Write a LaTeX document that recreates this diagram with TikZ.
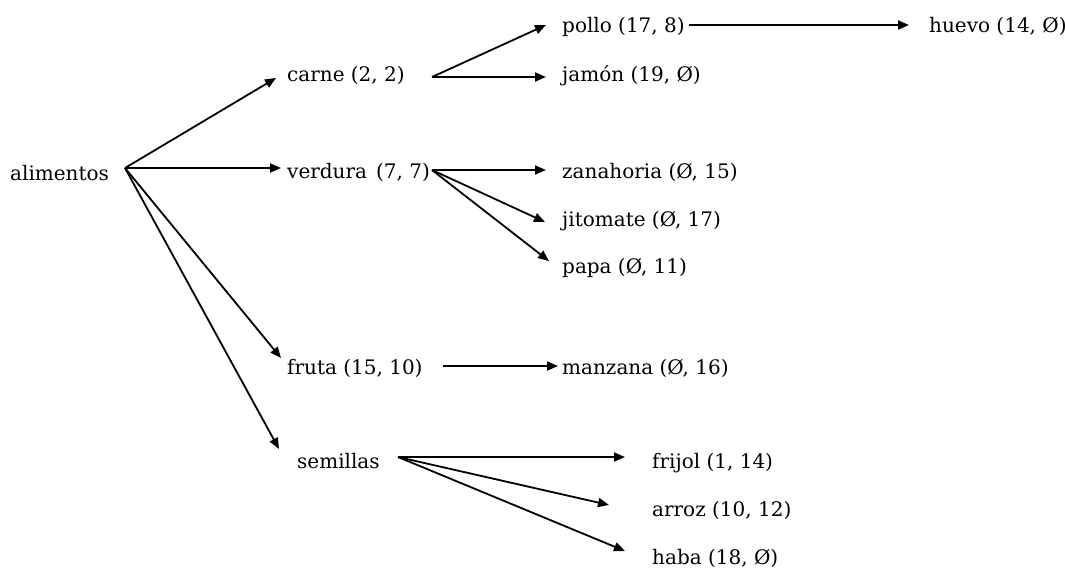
\documentclass[tikz,border=0pt]{standalone}
\usepackage{fontspec}
\setmainfont{DejaVu Serif}
\usetikzlibrary{arrows.meta}
\begin{document}
\begin{tikzpicture}[x=1pt,y=-1pt,
  lbl/.style={anchor=base west,inner sep=0pt,font=\fontsize{20}{22}\selectfont},
  link/.style={line width=1.8pt,-{Triangle[length=11pt,width=9pt]}}]
\useasboundingbox (0,0) rectangle (1065,574);
% labels
\node[lbl] (alimentos) at (10,180) {alimentos};
\node[lbl] (carne) at (287,81) {carne (2, 2)};
\node[lbl] (verdura) at (287,178) {verdura\hspace{0.45em}(7, 7)};
\node[lbl] (fruta) at (287,374) {fruta (15, 10)};
\node[lbl] (semillas) at (297,468) {semillas};
\node[lbl] (pollo) at (562,32) {pollo (17, 8)};
\node[lbl] (jamon) at (562,81) {jamón (19, Ø)};
\node[lbl] (huevo) at (929,32) {huevo (14, Ø)};
\node[lbl] (zanahoria) at (562,178) {zanahoria (Ø, 15)};
\node[lbl] (jitomate) at (562,226) {jitomate (Ø, 17)};
\node[lbl] (papa) at (562,273) {papa (Ø, 11)};
\node[lbl] (manzana) at (562,374) {manzana (Ø, 16)};
\node[lbl] (frijol) at (652,468) {frijol (1, 14)};
\node[lbl] (arroz) at (652,516) {arroz (10, 12)};
\node[lbl] (haba) at (652,564) {haba (18, Ø)};
% connector end points
\coordinate (alimentos-out) at (125,168);
\coordinate (carne-in) at (276,78);
\coordinate (verdura-in) at (281,168);
\coordinate (fruta-in) at (281,358);
\coordinate (semillas-in) at (279,449);
\coordinate (carne-out) at (432,77);
\coordinate (pollo-in) at (546,25);
\coordinate (jamon-in) at (546,77);
\coordinate (pollo-out) at (689,25);
\coordinate (huevo-in) at (909,25);
\coordinate (verdura-out) at (432,170);
\coordinate (zanahoria-in) at (546,170);
\coordinate (jitomate-in) at (545,222);
\coordinate (papa-in) at (549,261);
\coordinate (fruta-out) at (443,366);
\coordinate (manzana-in) at (558,366);
\coordinate (semillas-out) at (398,457);
\coordinate (frijol-in) at (625,457);
\coordinate (arroz-in) at (609,505);
\coordinate (haba-in) at (625,551);
% connectors
\foreach \t in {carne,verdura,fruta,semillas}
  \draw[link] (alimentos-out) -- (\t-in);
\draw[link] (carne-out) -- (pollo-in);
\draw[link] (carne-out) -- (jamon-in);
\draw[link] (pollo-out) -- (huevo-in);
\foreach \t in {zanahoria,jitomate,papa}
  \draw[link] (verdura-out) -- (\t-in);
\draw[link] (fruta-out) -- (manzana-in);
\foreach \t in {frijol,arroz,haba}
  \draw[link] (semillas-out) -- (\t-in);
\end{tikzpicture}
\end{document}
